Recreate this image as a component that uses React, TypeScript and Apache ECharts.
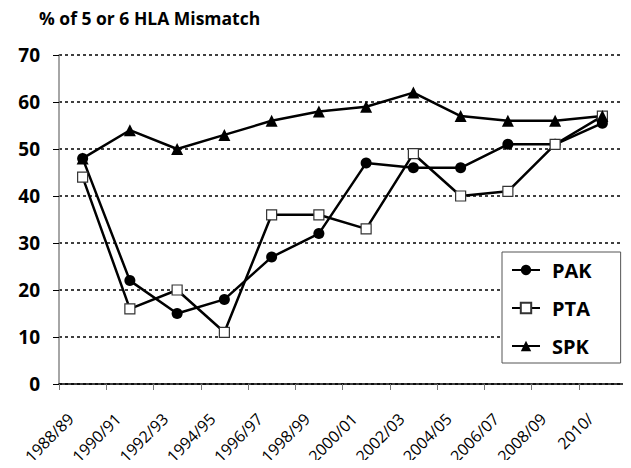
import React, { useEffect, useRef } from "react";
import * as echarts from "echarts";

const categories = [
  "1988/89", "1990/91", "1992/93", "1994/95", "1996/97", "1998/99",
  "2000/01", "2002/03", "2004/05", "2006/07", "2008/09", "2010/",
];
const pak = [48, 22, 15, 18, 27, 32, 47, 46, 46, 51, 51, 55.5];
const pta = [44, 16, 20, 11, 36, 36, 33, 49, 40, 41, 51, 57];
const spk = [48, 54, 50, 53, 56, 58, 59, 62, 57, 56, 56, 57];
const yTicks = { min: 0, max: 70, interval: 10 };
const titleText = "% of 5 or 6 HLA Mismatch";

const FONT = "'Open Sans', 'DejaVu Sans', sans-serif";

export default function App() {
  const ref = useRef<HTMLDivElement>(null);
  useEffect(() => {
    if (!ref.current) return;
    const chart = echarts.init(ref.current, null, { renderer: "svg" });
    const lineStyle = { color: "#000", width: 2.5 };
    chart.setOption({
      animation: false,
      backgroundColor: "#fff",
      title: {
        text: titleText,
        left: 34,
        top: 4,
        textStyle: { fontFamily: FONT, fontSize: 17.5, fontWeight: "bold", color: "#000" },
      },
      grid: { left: 59, right: 5, top: 55, bottom: 84, containLabel: false },
      legend: {
        orient: "vertical",
        left: 502,
        top: 252,
        padding: [8, 29, 7, 9],
        itemWidth: 28,
        itemHeight: 13,
        itemGap: 18,
        borderColor: "#555",
        borderWidth: 1,
        backgroundColor: "#fff",
        textStyle: {
          fontFamily: FONT,
          fontSize: 20,
          fontWeight: "bold",
          color: "#000",
          padding: [0, 0, 0, 7],
        },
        data: ["PAK", "PTA", "SPK"],
      },
      xAxis: {
        type: "category",
        data: categories,
        boundaryGap: true,
        axisLine: { lineStyle: { color: "#000", width: 1.5 } },
        axisTick: { show: true, length: 6, lineStyle: { color: "#777", width: 1 } },
        axisLabel: {
          rotate: 45,
          interval: 0,
          margin: 20,
          padding: [0, 17, 0, 0],
          fontFamily: FONT,
          fontSize: 16,
          color: "#000",
        },
      },
      yAxis: {
        type: "value",
        min: yTicks.min,
        max: yTicks.max,
        interval: yTicks.interval,
        axisLine: { show: true, lineStyle: { color: "#888", width: 1.5 } },
        axisTick: { show: true, length: 6, lineStyle: { color: "#000", width: 1 } },
        axisLabel: {
          margin: 19,
          fontFamily: FONT,
          fontSize: 19,
          fontWeight: "bold",
          color: "#000",
        },
        splitLine: { show: true, lineStyle: { color: "#000", width: 1.5, type: [3, 3] } },
      },
      series: [
        {
          name: "PAK",
          type: "line",
          data: pak,
          symbol: "circle",
          symbolSize: 11,
          lineStyle,
          itemStyle: { color: "#000" },
        },
        {
          name: "PTA",
          type: "line",
          data: pta,
          symbol: "rect",
          symbolSize: 10,
          lineStyle,
          itemStyle: { color: "#fff", borderColor: "#333", borderWidth: 1.2 },
        },
        {
          name: "SPK",
          type: "line",
          data: spk,
          symbol: "triangle",
          symbolSize: 12,
          lineStyle,
          itemStyle: { color: "#000" },
        },
      ],
    });
    return () => chart.dispose();
  }, []);
  return <div ref={ref} style={{ width: 631, height: 468, margin: -8 }} />;
}
